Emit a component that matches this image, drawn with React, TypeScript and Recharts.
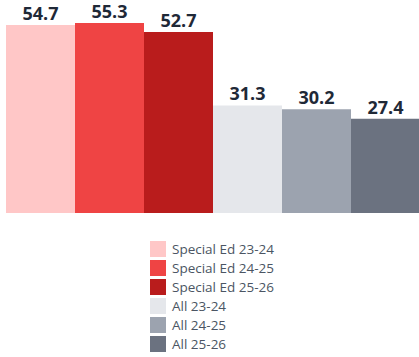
import { BarChart, Bar, XAxis, YAxis, Legend, LabelList } from 'recharts'

const seriesNames = ['Special Ed 23-24', 'Special Ed 24-25', 'Special Ed 25-26', 'All 23-24', 'All 24-25', 'All 25-26']
const seriesValues = [54.7, 55.3, 52.7, 31.3, 30.2, 27.4]
const seriesColors = ['#FFC7C7', '#EF4444', '#B91C1C', '#E5E7EB', '#9CA3AF', '#6B7280']

const keys = seriesNames.map((_, i) => `s${i}`)
const data = [
  keys.reduce((row: Record<string, number | string>, k, i) => {
    row[k] = seriesValues[i]
    return row
  }, { name: 'Rate' }),
]

function LegendList() {
  return (
    <div style={{ display: 'flex', flexDirection: 'column' }}>
      {seriesNames.map((name, i) => (
        <div key={name} style={{ display: 'flex', alignItems: 'center', height: 19 }}>
          <span style={{ width: 16, height: 16, backgroundColor: seriesColors[i], display: 'inline-block', marginRight: 6 }} />
          <span style={{ fontSize: 13.5, color: '#4B5563', lineHeight: '16px' }}>{name}</span>
        </div>
      ))}
    </div>
  )
}

export default function App() {
  return (
    <div style={{ position: 'absolute', left: 0, top: 0, width: 419, height: 357, background: '#fff', fontFamily: '"Open Sans", sans-serif' }}>
      <BarChart
        width={419}
        height={357}
        data={data}
        margin={{ top: 23, right: 0, bottom: 144, left: 6 }}
        barCategoryGap={0}
        barGap={0}
      >
        <XAxis dataKey="name" hide />
        <YAxis hide domain={[0, 'dataMax']} />
        <Legend
          layout="vertical"
          align="center"
          verticalAlign="middle"
          content={() => <LegendList />}
          wrapperStyle={{ top: 239, left: 150, width: 'auto' }}
        />
        {keys.map((k, i) => (
          <Bar key={k} dataKey={k} name={seriesNames[i]} fill={seriesColors[i]} isAnimationActive={false}>
            <LabelList
              dataKey={k}
              position="top"
              offset={5}
              style={{ fill: '#1F2937', fontSize: 18, fontWeight: 700, fontFamily: '"Open Sans", sans-serif' }}
            />
          </Bar>
        ))}
      </BarChart>
    </div>
  )
}
